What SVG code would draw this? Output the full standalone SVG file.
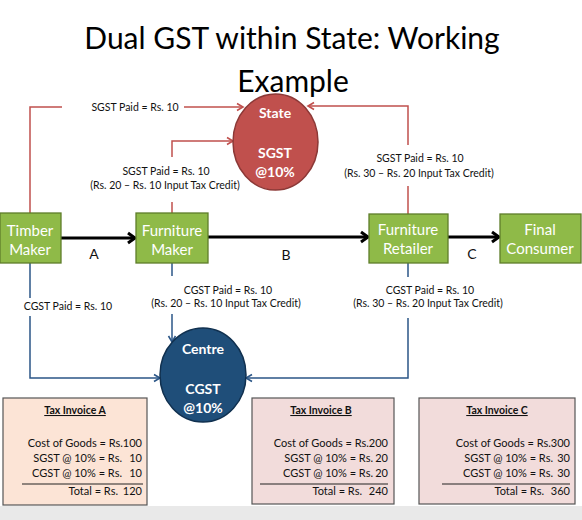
<svg xmlns="http://www.w3.org/2000/svg" width="582" height="520" viewBox="0 0 582 520">
<style>
text{font-family:Lato,"Liberation Sans",sans-serif;}
.title{font-size:30px;fill:#000;text-anchor:middle;}
.box{fill:#8fba48;stroke:#5e7d2a;stroke-width:1.3;}
.bt{font-size:15px;fill:#fff;text-anchor:middle;}
.ct{font-size:14px;fill:#fff;text-anchor:middle;font-weight:bold;}
.lbl{font-size:10.5px;fill:#111;text-anchor:middle;}
.let{font-size:14px;fill:#111;text-anchor:middle;}
.red{fill:none;stroke:#c0504d;stroke-width:1.5;}
.blue{fill:none;stroke:#2b5687;stroke-width:1.5;}
.blk{fill:none;stroke:#000;stroke-width:3;}
.inv{stroke:#555;stroke-width:1.2;}
.it{font-size:11px;fill:#111;text-anchor:end;}
.ih{font-size:10.5px;fill:#111;text-anchor:middle;font-weight:bold;text-decoration:underline;}
</style>
<defs>
<marker id="ab" markerUnits="userSpaceOnUse" markerWidth="14" markerHeight="14" refX="10" refY="7" orient="auto"><path d="M3,2 L10,7 L3,12" fill="none" stroke="#000" stroke-width="3"/></marker>
<marker id="ar" markerUnits="userSpaceOnUse" markerWidth="12" markerHeight="12" refX="9" refY="6" orient="auto"><path d="M3,2.5 L9,6 L3,9.5" fill="none" stroke="#c0504d" stroke-width="1.6"/></marker>
<marker id="au" markerUnits="userSpaceOnUse" markerWidth="12" markerHeight="12" refX="9" refY="6" orient="auto"><path d="M3,2.5 L9,6 L3,9.5" fill="none" stroke="#2b5687" stroke-width="1.6"/></marker>
</defs>
<rect x="0" y="0" width="582" height="520" fill="#fff"/>
<rect x="0" y="506" width="582" height="14" fill="#e9e9e9"/>
<g id="title">
<text class="title" x="292" y="49">Dual GST within State: Working</text>
<text class="title" x="293" y="92">Example</text>
</g>
<g id="connectors">
<path class="red" d="M30,213 V107 H62"/>
<path class="red" d="M184,107 H243" marker-end="url(#ar)"/>
<path class="red" d="M172,213 V202"/>
<path class="red" d="M172,157 V141 H233" marker-end="url(#ar)"/>
<path class="red" d="M408,214 V186"/>
<path class="red" d="M408,145 V106 H308" marker-end="url(#ar)"/>
<path class="blue" d="M30,263 V298"/>
<path class="blue" d="M30,316 V378 H160" marker-end="url(#au)"/>
<path class="blue" d="M172,263 V276"/>
<path class="blue" d="M172,314 V342" marker-end="url(#au)"/>
<path class="blue" d="M408,263 V277"/>
<path class="blue" d="M408,318 V378 H246" marker-end="url(#au)"/>
<path class="blk" d="M61,238 H135" marker-end="url(#ab)"/>
<path class="blk" d="M208,237 H368" stroke-width="2.5" marker-end="url(#ab)"/>
<path class="blk" d="M448,237 H499" stroke-width="2.5" marker-end="url(#ab)"/>
<text class="let" x="94" y="259">A</text>
<text class="let" x="286" y="260">B</text>
<text class="let" x="472" y="259">C</text>
<text class="lbl" x="135" y="111">SGST Paid = Rs. 10</text>
<text class="lbl" x="166" y="175">SGST Paid = Rs. 10</text>
<text class="lbl" x="165" y="189">(Rs. 20 – Rs. 10 Input Tax Credit)</text>
<text class="lbl" x="420" y="162">SGST Paid = Rs. 10</text>
<text class="lbl" x="419" y="177">(Rs. 30 – Rs. 20 Input Tax Credit)</text>
<text class="lbl" x="68" y="310">CGST Paid = Rs. 10</text>
<text class="lbl" x="228" y="294">CGST Paid = Rs. 10</text>
<text class="lbl" x="226" y="307">(Rs. 20 – Rs. 10 Input Tax Credit)</text>
<text class="lbl" x="430" y="294">CGST Paid = Rs. 10</text>
<text class="lbl" x="428" y="307">(Rs. 30 – Rs. 20 Input Tax Credit)</text>
</g>
<g id="timber-maker">
<rect class="box" x="0" y="213" width="61" height="50"/>
<text class="bt" x="30" y="236">Timber</text>
<text class="bt" x="30" y="255">Maker</text>
</g>
<g id="furniture-maker">
<rect class="box" x="136" y="213" width="72" height="50"/>
<text class="bt" x="172" y="236">Furniture</text>
<text class="bt" x="172" y="255">Maker</text>
</g>
<g id="furniture-retailer">
<rect class="box" x="369" y="214" width="79" height="49"/>
<text class="bt" x="408" y="235">Furniture</text>
<text class="bt" x="408" y="254">Retailer</text>
</g>
<g id="final-consumer">
<rect class="box" x="500" y="214" width="81" height="49"/>
<text class="bt" x="540" y="235">Final</text>
<text class="bt" x="540" y="254">Consumer</text>
</g>
<g id="state">
<ellipse cx="275.5" cy="142" rx="42.5" ry="48" fill="#c0504d" stroke="#8c3836" stroke-width="1.5"/>
<text class="ct" x="275" y="118">State</text>
<text class="ct" x="275" y="158">SGST</text>
<text class="ct" x="275" y="177">@10%</text>
</g>
<g id="centre">
<ellipse cx="203" cy="375" rx="43" ry="47" fill="#1f4e79" stroke="#10304f" stroke-width="1.5"/>
<text class="ct" x="203" y="354">Centre</text>
<text class="ct" x="203" y="394">CGST</text>
<text class="ct" x="203" y="413">@10%</text>
</g>
<g id="invoice-a">
<rect class="inv" x="3" y="398" width="144" height="107" fill="#fce4d6"/>
<text class="ih" x="75" y="414">Tax Invoice A</text>
<text class="it" x="142" y="447">Cost of Goods = Rs.100</text>
<text class="it"><tspan x="122" y="462">SGST @ 10% = Rs.</tspan><tspan x="142" y="462">10</tspan></text>
<text class="it"><tspan x="122" y="477">CGST @ 10% = Rs.</tspan><tspan x="142" y="477">10</tspan></text>
<line x1="22" y1="484" x2="143" y2="484" stroke="#222" stroke-width="1.2"/>
<text class="it"><tspan x="118" y="495">Total = Rs.</tspan><tspan x="142" y="495">120</tspan></text>
</g>
<g id="invoice-b">
<rect class="inv" x="252" y="398" width="142" height="106" fill="#f2dcdb"/>
<text class="ih" x="321" y="414">Tax Invoice B</text>
<text class="it" x="388" y="447">Cost of Goods = Rs.200</text>
<text class="it"><tspan x="373" y="462">SGST @ 10% = Rs.</tspan><tspan x="388" y="462">20</tspan></text>
<text class="it"><tspan x="373" y="477">CGST @ 10% = Rs.</tspan><tspan x="388" y="477">20</tspan></text>
<line x1="260" y1="484" x2="388" y2="484" stroke="#222" stroke-width="1.2"/>
<text class="it"><tspan x="362" y="495">Total = Rs.</tspan><tspan x="388" y="495">240</tspan></text>
</g>
<g id="invoice-c">
<rect class="inv" x="419" y="398" width="156" height="106" fill="#f2dcdb"/>
<text class="ih" x="497" y="414">Tax Invoice C</text>
<text class="it" x="570" y="447">Cost of Goods = Rs.300</text>
<text class="it"><tspan x="553" y="462">SGST @ 10% = Rs.</tspan><tspan x="570" y="462">30</tspan></text>
<text class="it"><tspan x="553" y="477">CGST @ 10% = Rs.</tspan><tspan x="570" y="477">30</tspan></text>
<line x1="442" y1="484" x2="570" y2="484" stroke="#222" stroke-width="1.2"/>
<text class="it"><tspan x="544" y="495">Total = Rs.</tspan><tspan x="570" y="495">360</tspan></text>
</g>
</svg>
